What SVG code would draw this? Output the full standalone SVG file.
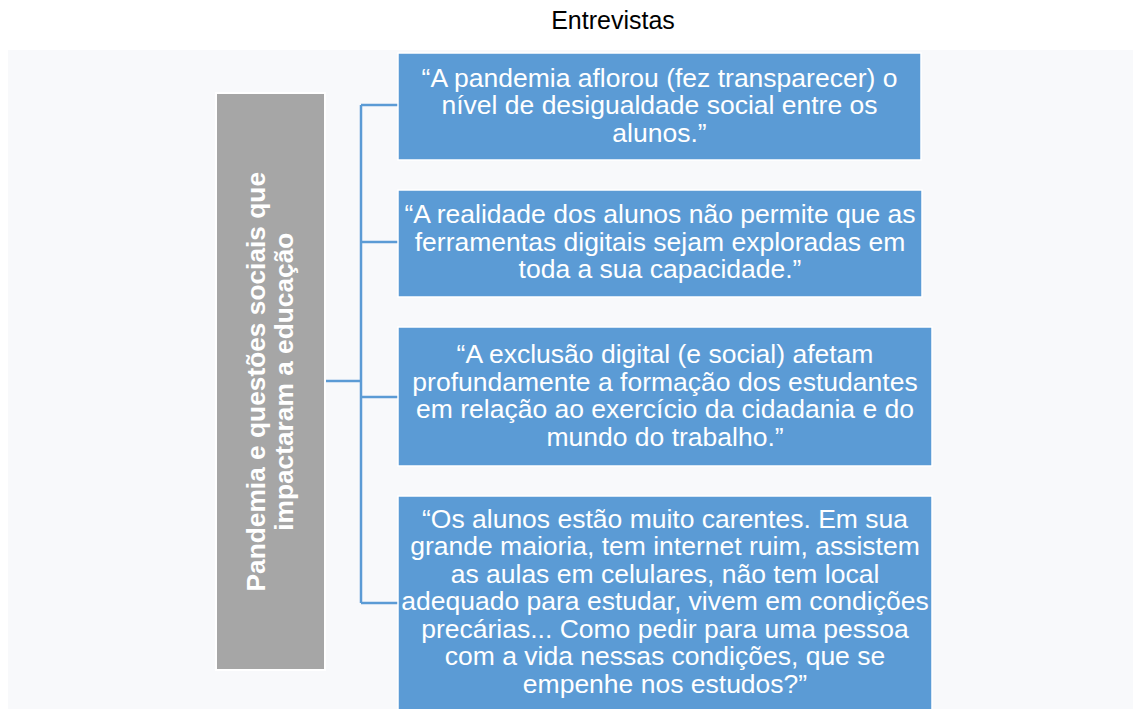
<svg xmlns="http://www.w3.org/2000/svg" width="1133" height="709" viewBox="0 0 1133 709">
<style>
.title{font-family:"Liberation Sans",Arial,sans-serif;font-size:25px;fill:#000;text-anchor:middle}
.q{font-family:"Liberation Sans",Arial,sans-serif;font-size:26.5px;fill:#fff;text-anchor:middle}
.g{font-family:"Liberation Sans",Arial,sans-serif;font-size:26.3px;font-weight:bold;fill:#fff;text-anchor:middle}
.box{fill:#5b9bd5;stroke:#ffffff;stroke-width:1.5}
.conn{fill:none;stroke:#5b9bd5;stroke-width:2.5}
</style>
<rect x="0" y="0" width="1133" height="709" fill="#ffffff"/>
<text class="title" x="613" y="28.5">Entrevistas</text>
<rect x="8" y="50" width="1125" height="659" fill="#f8f9fb"/>
<g id="connectors">
<path class="conn" d="M326 381 H361 M361 105 V603 M361 105 H398 M361 242 H398 M361 397 H398 M361 603 H398"/>
</g>
<g id="root">
<rect x="216" y="93" width="109" height="577" fill="#a6a6a6" stroke="#ffffff" stroke-width="2"/>
<g transform="translate(0 381.7) rotate(-90)">
<text class="g"><tspan x="0" y="265">Pandemia e questões sociais que</tspan><tspan x="0" y="293">impactaram a educação</tspan></text>
</g>
</g>
<g id="quote1">
<rect class="box" x="398" y="53" width="523" height="107"/>
<text class="q"><tspan x="659.5" y="86.5">“A pandemia aflorou (fez transparecer) o</tspan><tspan x="659.5" y="114">nível de desigualdade social entre os</tspan><tspan x="659.5" y="141.5">alunos.”</tspan></text>
</g>
<g id="quote2">
<rect class="box" x="398" y="190" width="524" height="107"/>
<text class="q"><tspan x="660" y="223">“A realidade dos alunos não permite que as</tspan><tspan x="660" y="250.5">ferramentas digitais sejam exploradas em</tspan><tspan x="660" y="278">toda a sua capacidade.”</tspan></text>
</g>
<g id="quote3">
<rect class="box" x="398" y="327" width="534" height="139"/>
<text class="q"><tspan x="665" y="363">“A exclusão digital (e social) afetam</tspan><tspan x="665" y="390.5">profundamente a formação dos estudantes</tspan><tspan x="665" y="418">em relação ao exercício da cidadania e do</tspan><tspan x="665" y="445.5">mundo do trabalho.”</tspan></text>
</g>
<g id="quote4">
<rect class="box" x="398" y="496" width="534" height="225"/>
<text class="q"><tspan x="665" y="527.5">“Os alunos estão muito carentes. Em sua</tspan><tspan x="665" y="555">grande maioria, tem internet ruim, assistem</tspan><tspan x="665" y="582.5">as aulas em celulares, não tem local</tspan><tspan x="665" y="610">adequado para estudar, vivem em condições</tspan><tspan x="665" y="637.5">precárias... Como pedir para uma pessoa</tspan><tspan x="665" y="665">com a vida nessas condições, que se</tspan><tspan x="665" y="692.5">empenhe nos estudos?”</tspan></text>
</g>
</svg>
